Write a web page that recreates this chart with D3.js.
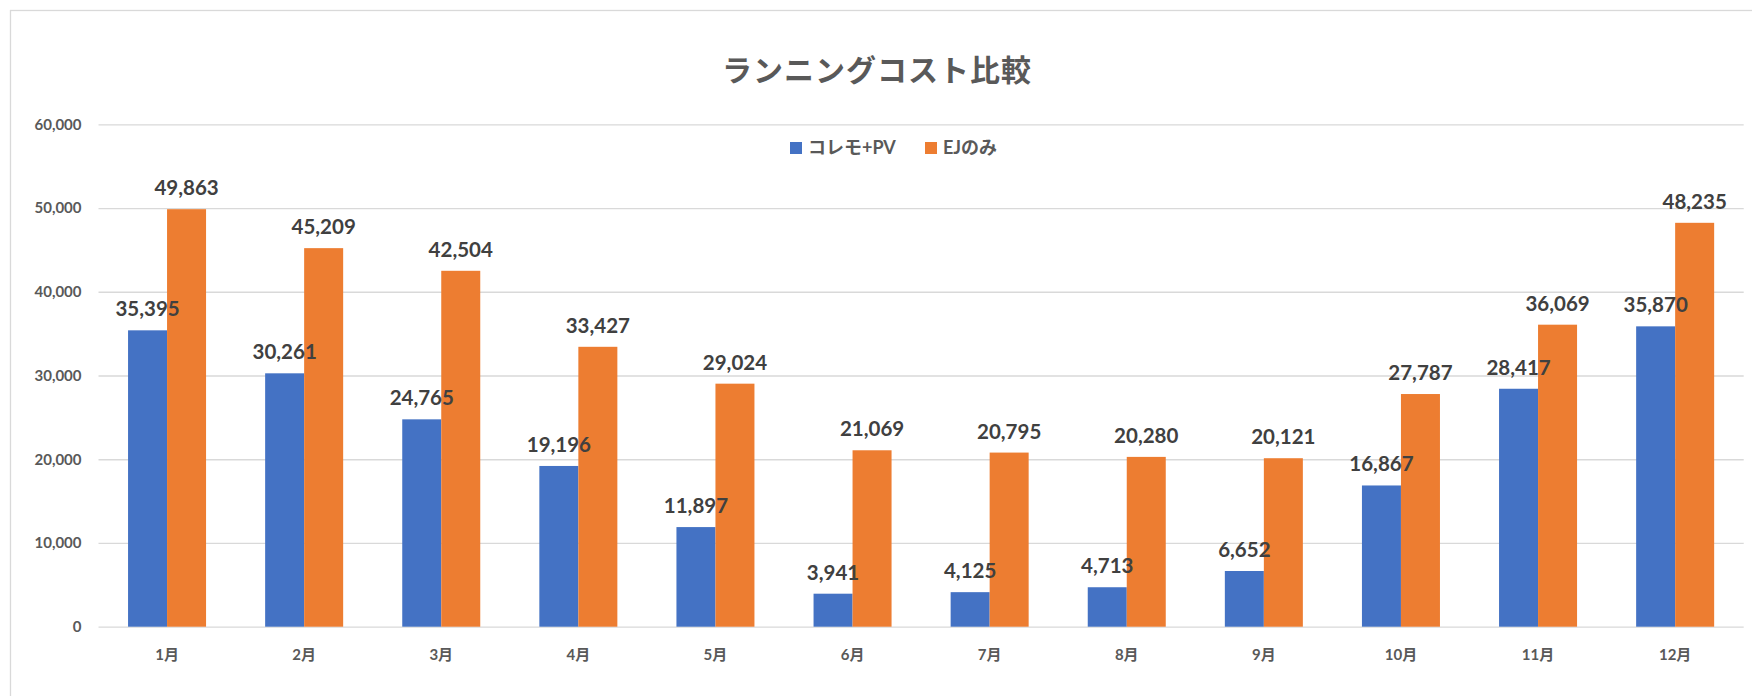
<!DOCTYPE html>
<html>
<head>
	<meta charset="utf-8">
	<title>ランニングコスト比較</title>
	<style>
		body {
			margin: 0;
			background: #fff;
		}
		svg text {
			font-family: "Lato", "Noto Sans CJK JP", sans-serif;
			font-weight: bold;
		}
		.grid line, .grid path {
			stroke: #d9d9d9;
			stroke-width: 1.3px;
		}
	</style>
</head>
<body>
	<div id="chart"></div>
	<script src="https://cdn.jsdelivr.net/npm/d3@7/dist/d3.min.js"></script>
	<script>
		// months on the x axis
		var months = ['1月', '2月', '3月', '4月', '5月', '6月', '7月', '8月', '9月', '10月', '11月', '12月'];
		var seriesNames = ['コレモ+PV', 'EJのみ'];
		// running cost per month
		var coremoPV = [35395, 30261, 24765, 19196, 11897, 3941, 4125, 4713, 6652, 16867, 28417, 35870];
		var ejOnly = [49863, 45209, 42504, 33427, 29024, 21069, 20795, 20280, 20121, 27787, 36069, 48235];
		var yTicks = [0, 10000, 20000, 30000, 40000, 50000, 60000];
		var colors = ['#4472c4', '#ed7d31'];

		var bounds = { width: 1752, height: 696 };
		var plot = { left: 98.5, right: 1743.7, top: 124.3, bottom: 626.7 };

		var svg = d3.select('#chart')
						.append('svg')
						.attr('width', bounds.width)
						.attr('height', bounds.height);

		// chart frame (only top and left edges are in view)
		svg.append('rect')
			.attr('x', 10.5)
			.attr('y', 10.5)
			.attr('width', 2000)
			.attr('height', 1000)
			.attr('fill', 'none')
			.attr('stroke', '#d9d9d9')
			.attr('stroke-width', 1.3);

		var x = d3.scaleBand()
						.domain(months)
						.range([plot.left, plot.right])
						.paddingInner(0.431)
						.paddingOuter(0.2155);

		var xs = d3.scaleBand()
						.domain([0, 1])
						.range([0, x.bandwidth()]);

		var y = d3.scaleLinear()
						.domain([0, 60000])
						.range([plot.bottom, plot.top]);

		// gridlines + y labels
		var yAxis = svg.append('g')
						.attr('class', 'grid')
						.attr('transform', 'translate(' + plot.left + ',0)')
						.call(d3.axisLeft(y)
							.tickValues(yTicks)
							.tickSize(-(plot.right - plot.left))
							.tickPadding(17)
							.tickFormat(d3.format(',')));
		yAxis.select('.domain').remove();
		yAxis.selectAll('text')
			.attr('fill', '#595959')
			.style('font-size', '15px');

		// x labels
		var xAxis = svg.append('g')
						.attr('transform', 'translate(0,' + plot.bottom + ')')
						.call(d3.axisBottom(x).tickSize(0));
		xAxis.select('.domain').remove();
		xAxis.selectAll('text')
			.attr('y', 28)
			.attr('dy', '0.35em')
			.attr('fill', '#595959')
			.style('font-size', '15px');

		var data = months.map(function (m, i) {
			return { month: m, values: [coremoPV[i], ejOnly[i]] };
		});

		var groups = svg.selectAll('.month')
						.data(data)
						.enter()
						.append('g')
						.attr('class', 'month')
						.attr('transform', function (d) { return 'translate(' + x(d.month) + ',0)'; });

		groups.selectAll('rect')
			.data(function (d) { return d.values; })
			.enter()
			.append('rect')
			.attr('x', function (d, i) { return xs(i); })
			.attr('y', function (d) { return y(d); })
			.attr('width', xs.bandwidth())
			.attr('height', function (d) { return plot.bottom - y(d); })
			.attr('fill', function (d, i) { return colors[i]; });

		// value labels above the bars
		groups.selectAll('.val')
			.data(function (d) { return d.values; })
			.enter()
			.append('text')
			.attr('class', 'val')
			.attr('x', function (d, i) { return xs(i) + xs.bandwidth() / 2; })
			.attr('y', function (d) { return y(d) - 14; })
			.attr('text-anchor', 'middle')
			.attr('fill', '#404040')
			.style('font-size', '20.5px')
			.text(d3.format(','));

		// title
		svg.append('text')
			.attr('x', 877)
			.attr('y', 81)
			.attr('text-anchor', 'middle')
			.attr('fill', '#595959')
			.style('font-size', '30px')
			.style('letter-spacing', '1px')
			.text('ランニングコスト比較');

		// legend
		var legendX = [790, 925];
		var legend = svg.selectAll('.legend')
						.data(seriesNames)
						.enter()
						.append('g')
						.attr('class', 'legend')
						.attr('transform', function (d, i) { return 'translate(' + legendX[i] + ',142)'; });
		legend.append('rect')
			.attr('width', 12)
			.attr('height', 12)
			.attr('fill', function (d, i) { return colors[i]; });
		legend.append('text')
			.attr('x', 18)
			.attr('y', 6)
			.attr('dy', '0.36em')
			.attr('fill', '#595959')
			.style('font-size', '18px')
			.text(function (d) { return d; });
	</script>
</body>
</html>
